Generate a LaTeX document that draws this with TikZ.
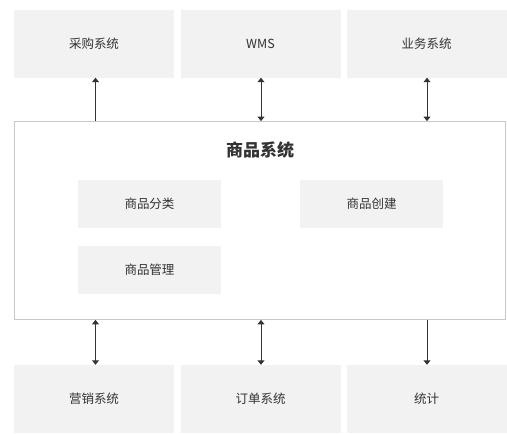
\documentclass[tikz,border=0pt]{standalone}
\usepackage{fontspec}
\setmainfont{Noto Sans CJK SC}
\usetikzlibrary{arrows.meta}
\definecolor{boxfill}{HTML}{F2F2F2}
\definecolor{txt}{HTML}{333333}
\definecolor{frame}{HTML}{C8C8C8}
\tikzset{
  sysbox/.style={fill=boxfill, draw=none, minimum width=160pt, minimum height=68pt, inner sep=0pt, text=txt, font=\fontsize{12.5}{14}\selectfont},
  modbox/.style={fill=boxfill, draw=none, minimum width=143pt, minimum height=48pt, inner sep=0pt, text=txt, font=\fontsize{12.5}{14}\selectfont},
  conn/.style={draw=txt, line width=0.9pt, -{Triangle[width=7pt,length=4.5pt]}},
  biconn/.style={draw=txt, line width=0.9pt, {Triangle[width=7pt,length=4.5pt]}-{Triangle[width=7pt,length=4.5pt]}}
}
\begin{document}
\begin{tikzpicture}[x=1pt,y=-1pt]
\useasboundingbox (0,0) rectangle (507,434);
% top systems
\node[sysbox] (cg) at (94,43.5) {采购系统};
\node[sysbox] (wms) at (260.5,43.5) {WMS};
\node[sysbox] (yw) at (426.5,43.5) {业务系统};
% main box
\node[draw=frame, line width=0.8pt, fill=white, minimum width=491pt, minimum height=198pt, inner sep=0pt] (main) at (260,220.5) {};
\node[text=txt, font=\fontsize{17}{19}\selectfont\bfseries] (title) at (260,150.5) {商品系统};
\node[modbox] (fl) at (149.5,203.5) {商品分类};
\node[modbox] (cj) at (371.5,203.5) {商品创建};
\node[modbox] (gl) at (149.5,269.5) {商品管理};
% bottom systems
\node[sysbox] (yx) at (94,399) {营销系统};
\node[sysbox] (dd) at (260.5,399) {订单系统};
\node[sysbox] (tj) at (426.5,399) {统计};
% connectors
\draw[conn] (main.north -| 95.5,0) -- (cg.south -| 95.5,0);
\draw[biconn] (main.north -| 261,0) -- (wms.south -| 261,0);
\draw[biconn] (main.north -| 427,0) -- (yw.south -| 427,0);
\draw[biconn] (main.south -| 95.5,0) -- (yx.north -| 95.5,0);
\draw[biconn] (main.south -| 261,0) -- (dd.north -| 261,0);
\draw[conn] (main.south -| 427,0) -- (tj.north -| 427,0);
\end{tikzpicture}
\end{document}
